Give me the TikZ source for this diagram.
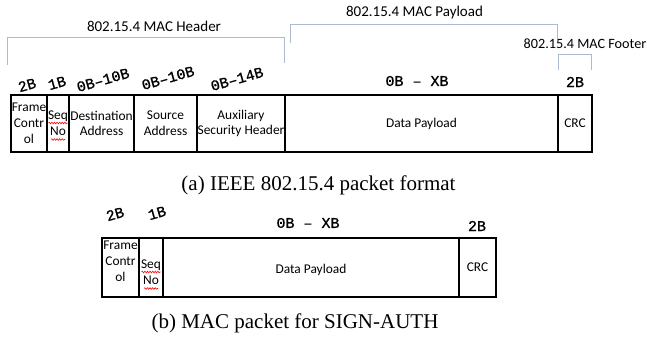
\documentclass[tikz,border=0pt]{standalone}
\usepackage{fontspec}
\setmainfont{Carlito}
\newfontfamily\capfont{Liberation Serif}
\newfontfamily\szfont[FakeBold=1]{Liberation Mono}
\usetikzlibrary{decorations.pathmorphing,calc}
\definecolor{brk}{RGB}{172,186,210}
\begin{document}
\begin{tikzpicture}[x=1pt,y=-1pt,
  cell/.style={draw=black, line width=1.3pt, inner sep=0pt, align=center,
    font=\fontsize{13.4}{15.8}\selectfont},
  celltext/.style={inner sep=0pt, align=center, font=\fontsize{13.4}{15.8}\selectfont},
  sz/.style={font=\szfont\fontsize{15}{15}\selectfont, inner sep=0pt},
  tilt/.style={sz, transform canvas={shift={#1}, rotate=16}},
  hdr/.style={font=\fontsize{15}{15}\selectfont, inner sep=0pt},
  brack/.style={draw=brk, line width=1pt},
  capt/.style={font=\capfont\fontsize{21}{21}\selectfont, inner sep=0pt},
  squig/.style={draw=red, line width=0.6pt, decorate,
    decoration={snake, amplitude=0.8pt, segment length=2.6pt}}]
\useasboundingbox (0,0) rectangle (647,350);

% ---------- top packet ----------
\node[cell, minimum width=36pt,  minimum height=57pt] (fc)   at (29,123.5)    {Frame\\Contr\\ol};
\node[cell, minimum width=22pt,  minimum height=57pt] (seq)  at (58,123.5)    {Seq\\No};
\node[cell, minimum width=65pt,  minimum height=57pt] (dst)  at (101.5,123.5) {Destination\\Address};
\node[cell, minimum width=63pt,  minimum height=57pt] (src)  at (165.5,123.5) {Source\\Address};
\node[cell, minimum width=88pt,  minimum height=57pt] (aux)  at (241,123.5)   {Auxiliary\\Security Header};
\node[cell, minimum width=273pt, minimum height=57pt] (data) at (421.5,123.5) {Data Payload};
\node[cell, minimum width=34pt,  minimum height=57pt] (crc)  at (575,123.5)   {CRC};

\draw[squig] ($(seq.center)+(-9.5,-0.5)$) -- ($(seq.center)+(9.5,-0.5)$);
\draw[squig] ($(seq.center)+(-7,16)$) -- ($(seq.center)+(7,16)$);

% size labels (tilted)
\node[tilt={(27,85)}]  (s1) at (0,0) {2B};
\node[tilt={(57,83)}]  (s2) at (0,0) {1B};
\node[tilt={(103,80)}] (s3) at (0,0) {0B–10B};
\node[tilt={(168,78)}] (s4) at (0,0) {0B–10B};
\node[tilt={(237,79)}] (s5) at (0,0) {0B–14B};
\node[sz] (s6) at (417,81) {0B – XB};
\node[sz] (s7) at (575,82) {2B};

% brackets
\coordinate (h1) at (7,65);   \coordinate (h2) at (7,38);
\coordinate (h3) at (284,38); \coordinate (h4) at (284,63);
\draw[brack] (h1) -- (h2) -- (h3) -- (h4);
\coordinate (p1) at (290,43); \coordinate (p2) at (290,25);
\coordinate (p3) at (557,25); \coordinate (p4) at (557,40);
\draw[brack] (p1) -- (p2) -- (p3) -- (p4);
\coordinate (f1) at (558,70); \coordinate (f2) at (558,55);
\coordinate (f3) at (591,55); \coordinate (f4) at (591,70);
\draw[brack] (f1) -- (f2) -- (f3) -- (f4);

\node[hdr] (hh) at (154,26)   {802.15.4 MAC Header};
\node[hdr] (hp) at (414.5,13) {802.15.4 MAC Payload};
\node[hdr, font=\fontsize{14.2}{14.2}\selectfont] (hf) at (585,44) {802.15.4 MAC Footer};

\node[capt] (capa) at (318.5,185) {(a) IEEE 802.15.4 packet format};

% ---------- bottom packet ----------
\node[cell, minimum width=37pt,  minimum height=59pt] (bfc)   at (120.5,267.5) {};
\node[cell, minimum width=24pt,  minimum height=59pt] (bseq)  at (151,267.5)   {};
\node[cell, minimum width=296pt, minimum height=59pt] (bdata) at (311,267.5)   {};
\node[cell, minimum width=37pt,  minimum height=59pt] (bcrc)  at (477.5,267.5) {CRC};
\node[celltext] (bfct)   at ($(bfc.center)+(0,-6)$)   {Frame\\Contr\\ol};
\node[celltext] (bseqt)  at ($(bseq.center)+(0,5)$)   {Seq\\No};
\node[celltext] (bdatat) at ($(bdata.center)+(0,2.5)$) {Data Payload};

\draw[squig] ($(bseqt.center)+(-9.5,-0.5)$) -- ($(bseqt.center)+(9.5,-0.5)$);
\draw[squig] ($(bseqt.center)+(-7,16)$) -- ($(bseqt.center)+(7,16)$);

\node[tilt={(115,214)}] (b1) at (0,0) {2B};
\node[tilt={(157,213)}] (b2) at (0,0) {1B};
\node[sz] (b3) at (308,223) {0B – XB};
\node[sz] (b4) at (477,226) {2B};

\node[capt] (capb) at (295,323) {(b) MAC packet for SIGN-AUTH};
\end{tikzpicture}
\end{document}
